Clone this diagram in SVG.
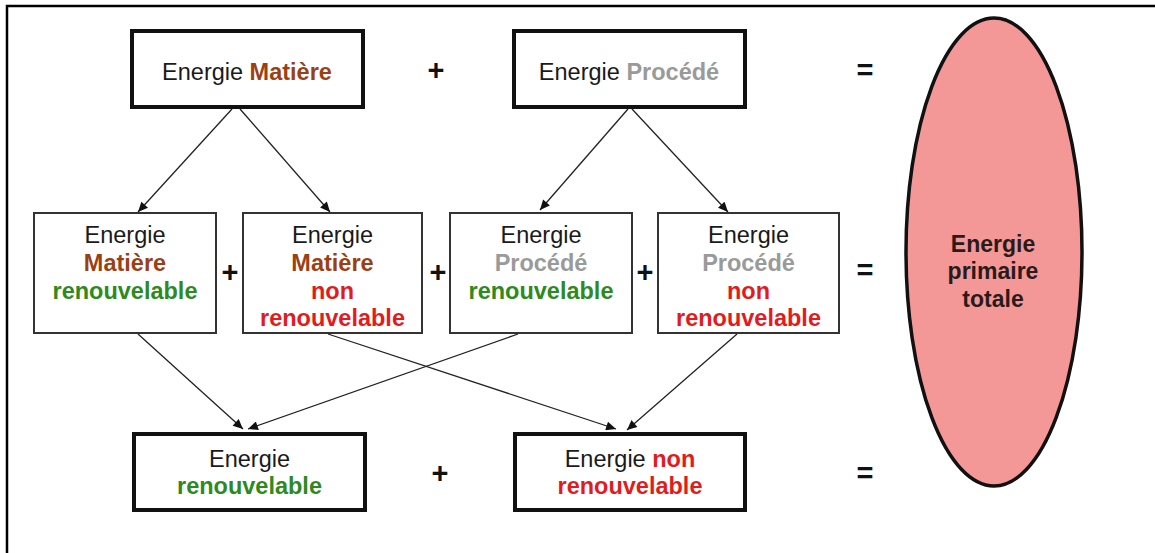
<svg xmlns="http://www.w3.org/2000/svg" width="1155" height="553" viewBox="0 0 1155 553">
  <style>
    text { font-family: "Liberation Sans", Arial, sans-serif; font-size: 23.5px; text-anchor: middle; fill: #1a1a1a; }
    .b { font-weight: bold; }
    .mat { fill: #9c3f14; font-weight: bold; }
    .proc { fill: #9a9a9a; font-weight: bold; }
    .ren { fill: #2e8a1e; font-weight: bold; }
    .nren { fill: #e21c1c; font-weight: bold; }
    .op { font-size: 29px; font-weight: bold; fill: #111; }
    .tot { font-size: 23px; font-weight: bold; fill: #2a1a1a; }
    .main { fill: #fff; stroke: #111; stroke-width: 4; }
    .part { fill: #fff; stroke: #333; stroke-width: 2; }
    .link { stroke: #222; stroke-width: 1.3; fill: none; marker-end: url(#head); }
  </style>
  <defs>
    <marker id="head" viewBox="0 0 11 10" refX="11" refY="5" markerWidth="11" markerHeight="9" markerUnits="userSpaceOnUse" orient="auto">
      <path d="M0,0 L11,5 L0,10 z" fill="#111"/>
    </marker>
  </defs>

  <!-- frame -->
  <path d="M7,553 V6 H1155" fill="none" stroke="#000" stroke-width="2.5"/>

  <!-- top row -->
  <g id="energie-matiere">
    <rect class="main" x="132" y="31" width="231" height="76"/>
    <text x="247" y="80">Energie <tspan class="mat">Matière</tspan></text>
  </g>
  <g id="energie-procede">
    <rect class="main" x="514" y="31" width="231" height="76"/>
    <text x="629" y="80">Energie <tspan class="proc">Procédé</tspan></text>
  </g>

  <!-- middle row -->
  <g id="matiere-renouvelable">
    <rect class="part" x="34" y="213" width="182" height="120"/>
    <text x="125" y="243">Energie</text>
    <text class="mat" x="125" y="271">Matière</text>
    <text class="ren" x="125" y="299">renouvelable</text>
  </g>
  <g id="matiere-non-renouvelable">
    <rect class="part" x="243" y="213" width="179" height="120"/>
    <text x="332.5" y="243">Energie</text>
    <text class="mat" x="332.5" y="271">Matière</text>
    <text class="nren" x="332.5" y="299">non</text>
    <text class="nren" x="332.5" y="326">renouvelable</text>
  </g>
  <g id="procede-renouvelable">
    <rect class="part" x="450" y="213" width="182" height="120"/>
    <text x="541" y="243">Energie</text>
    <text class="proc" x="541" y="271">Procédé</text>
    <text class="ren" x="541" y="299">renouvelable</text>
  </g>
  <g id="procede-non-renouvelable">
    <rect class="part" x="658" y="213" width="181" height="120"/>
    <text x="748.5" y="243">Energie</text>
    <text class="proc" x="748.5" y="271">Procédé</text>
    <text class="nren" x="748.5" y="299">non</text>
    <text class="nren" x="748.5" y="326">renouvelable</text>
  </g>

  <!-- bottom row -->
  <g id="energie-renouvelable">
    <rect class="main" x="134" y="434" width="231" height="76"/>
    <text x="249.5" y="467">Energie</text>
    <text class="ren" x="249.5" y="494">renouvelable</text>
  </g>
  <g id="energie-non-renouvelable">
    <rect class="main" x="515" y="434" width="230" height="76"/>
    <text x="630" y="467">Energie <tspan class="nren">non</tspan></text>
    <text class="nren" x="630" y="494">renouvelable</text>
  </g>

  <!-- total -->
  <g id="energie-primaire-totale">
    <ellipse cx="994" cy="252" rx="88" ry="234" fill="#f49797" stroke="#111" stroke-width="3.5"/>
    <text class="tot" x="993" y="252">Energie</text>
    <text class="tot" x="993" y="279">primaire</text>
    <text class="tot" x="993" y="307">totale</text>
  </g>

  <!-- operators -->
  <g id="operators">
    <text class="op" x="436" y="80">+</text>
    <text class="op" x="865" y="80">=</text>
    <text class="op" x="230" y="282">+</text>
    <text class="op" x="438" y="282">+</text>
    <text class="op" x="645" y="282">+</text>
    <text class="op" x="865" y="280">=</text>
    <text class="op" x="440" y="483">+</text>
    <text class="op" x="865" y="483">=</text>
  </g>

  <!-- connectors -->
  <g id="connectors">
    <line class="link" x1="232" y1="109" x2="138" y2="212"/>
    <line class="link" x1="240" y1="109" x2="330" y2="212"/>
    <line class="link" x1="628" y1="109" x2="540" y2="210"/>
    <line class="link" x1="632" y1="109" x2="728" y2="212"/>
    <line class="link" x1="138" y1="334" x2="243" y2="429"/>
    <line class="link" x1="518" y1="334" x2="248" y2="429"/>
    <line class="link" x1="328" y1="334" x2="616" y2="429"/>
    <line class="link" x1="737" y1="334" x2="627" y2="430"/>
  </g>
</svg>
